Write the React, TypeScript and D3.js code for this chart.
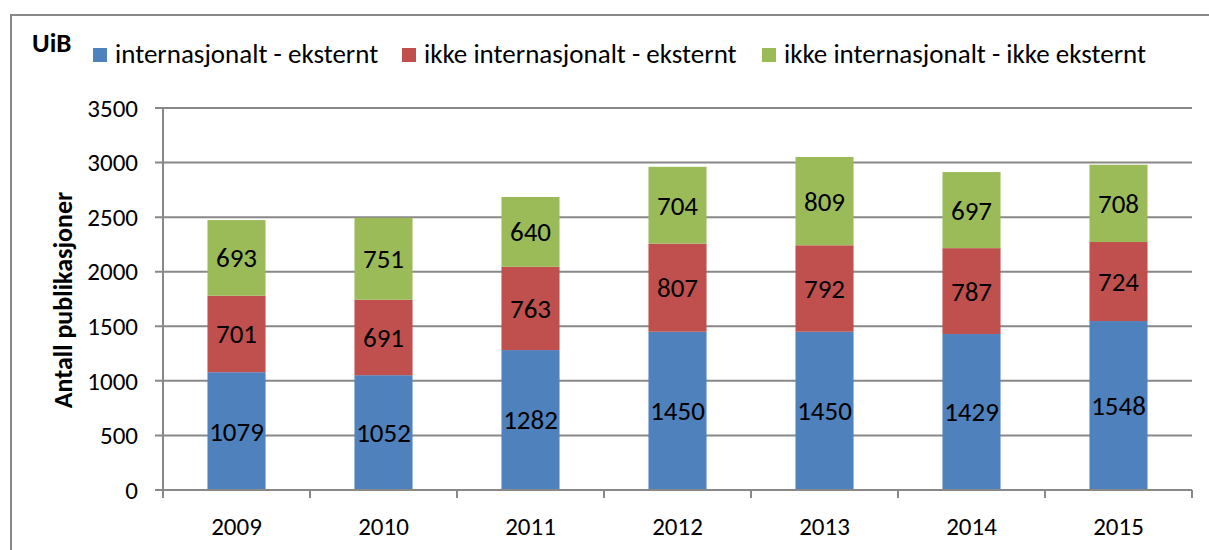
import React, { useEffect, useRef } from 'react';
import * as d3 from 'd3';

const years = ['2009', '2010', '2011', '2012', '2013', '2014', '2015'];
const internasjonaltEksternt = [1079, 1052, 1282, 1450, 1450, 1429, 1548];
const ikkeInternasjonaltEksternt = [701, 691, 763, 807, 792, 787, 724];
const ikkeInternasjonaltIkkeEksternt = [693, 751, 640, 704, 809, 697, 708];
const seriesNames = ['internasjonalt - eksternt', 'ikke internasjonalt - eksternt', 'ikke internasjonalt - ikke eksternt'];
const seriesColors = ['#4F81BD', '#C0504D', '#9BBB59'];
const yTicks = [0, 500, 1000, 1500, 2000, 2500, 3000, 3500];

const FONT = 'Carlito, Lato, "Open Sans", sans-serif';

const App = () => {
    const node = useRef<SVGSVGElement>(null);

    useEffect(() => {
        const svg = d3.select(node.current);
        svg.selectAll('*').remove();

        const margin = { top: 108, left: 163, right: 17, bottom: 60 };
        const width = 1209, height = 550;

        // outer chart frame (only top and left edges are visible)
        svg.append('path')
            .attr('d', `M11,${height} L11,15 L${width},15`)
            .attr('fill', 'none')
            .attr('stroke', '#888')
            .attr('stroke-width', 2);

        const x = d3.scaleBand()
            .domain(years)
            .range([margin.left, width - margin.right])
            .paddingInner(0.605)
            .paddingOuter(0.3025);

        const y = d3.scaleLinear()
            .domain([0, 3500])
            .range([490, margin.top]);

        // gridlines
        svg.append('g')
            .selectAll('line')
            .data(yTicks)
            .enter().append('line')
            .attr('x1', margin.left - 8)
            .attr('x2', width - margin.right)
            .attr('y1', (d) => y(d))
            .attr('y2', (d) => y(d))
            .attr('stroke', '#888')
            .attr('stroke-width', 2);

        svg.append('g')
            .selectAll('text')
            .data(yTicks)
            .enter().append('text')
            .attr('x', margin.left - 25)
            .attr('y', (d) => y(d))
            .attr('dy', '0.35em')
            .attr('text-anchor', 'end')
            .attr('font-family', FONT)
            .attr('font-size', 25)
            .text((d) => d);

        // stacked bars
        const rows = years.map((yr, i) => ({
            year: yr,
            s0: internasjonaltEksternt[i],
            s1: ikkeInternasjonaltEksternt[i],
            s2: ikkeInternasjonaltIkkeEksternt[i],
        }));
        const stack = d3.stack<any>().keys(['s0', 's1', 's2'])(rows);

        stack.forEach((layer, li) => {
            const g = svg.append('g');
            g.selectAll('rect')
                .data(layer)
                .enter().append('rect')
                .attr('x', (d) => x(d.data.year)!)
                .attr('width', x.bandwidth())
                .attr('y', (d) => y(d[1]))
                .attr('height', (d) => y(d[0]) - y(d[1]))
                .attr('fill', seriesColors[li]);
            g.selectAll('text')
                .data(layer)
                .enter().append('text')
                .attr('x', (d) => x(d.data.year)! + x.bandwidth() / 2)
                .attr('y', (d) => y((d[0] + d[1]) / 2))
                .attr('dy', '0.35em')
                .attr('text-anchor', 'middle')
                .attr('font-family', FONT)
                .attr('font-size', 27)
                .text((d) => d[1] - d[0]);
        });

        // axes lines
        svg.append('line')
            .attr('x1', margin.left).attr('x2', margin.left)
            .attr('y1', margin.top).attr('y2', 490)
            .attr('stroke', '#888').attr('stroke-width', 2);
        svg.append('line')
            .attr('x1', margin.left).attr('x2', width - margin.right)
            .attr('y1', 490).attr('y2', 490)
            .attr('stroke', '#888').attr('stroke-width', 2);

        const step = x.step();
        svg.append('g')
            .selectAll('line')
            .data(d3.range(years.length + 1))
            .enter().append('line')
            .attr('x1', (d) => margin.left + d * step)
            .attr('x2', (d) => margin.left + d * step)
            .attr('y1', 490).attr('y2', 498)
            .attr('stroke', '#888').attr('stroke-width', 2);

        svg.append('g')
            .selectAll('text')
            .data(years)
            .enter().append('text')
            .attr('x', (d) => x(d)! + x.bandwidth() / 2)
            .attr('y', 535)
            .attr('text-anchor', 'middle')
            .attr('font-family', FONT)
            .attr('font-size', 25)
            .text((d) => d);

        // y axis title
        svg.append('text')
            .attr('transform', 'translate(72,300) rotate(-90)')
            .attr('text-anchor', 'middle')
            .attr('font-family', FONT)
            .attr('font-weight', 'bold')
            .attr('font-size', 26)
            .text('Antall publikasjoner');

        // title
        svg.append('text')
            .attr('x', 32).attr('y', 52)
            .attr('font-family', FONT)
            .attr('font-weight', 'bold')
            .attr('font-size', 27)
            .text('UiB');

        // legend
        const legendX = [93, 402, 762];
        const leg = svg.append('g').selectAll('g')
            .data(seriesNames)
            .enter().append('g')
            .attr('transform', (d, i) => `translate(${legendX[i]},0)`);
        leg.append('rect')
            .attr('x', 0).attr('y', 48)
            .attr('width', 14).attr('height', 14)
            .attr('fill', (d, i) => seriesColors[i]);
        leg.append('text')
            .attr('x', 22).attr('y', 63)
            .attr('font-family', FONT)
            .attr('font-size', 27)
            .text((d) => d);
    }, []);

    return (
        <svg ref={node} width={1209} height={550}
            style={{ position: 'absolute', left: 0, top: 0, background: '#fff' }}>
        </svg>
    );
};

export default App;
